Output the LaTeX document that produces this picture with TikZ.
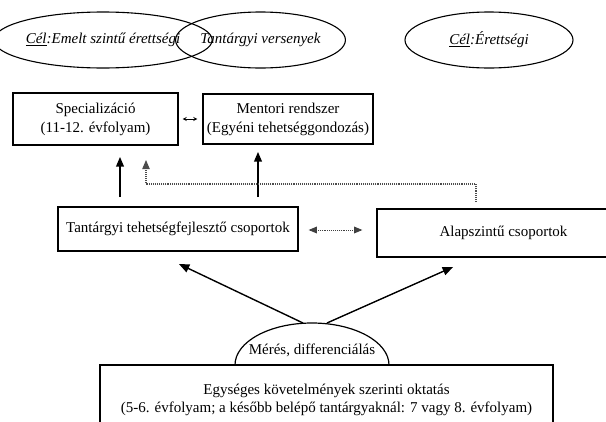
\documentclass[tikz,border=0pt]{standalone}
\usepackage{fontspec}
\setmainfont{Liberation Serif}
\usepackage{tikz}
\usetikzlibrary{arrows,shapes.geometric}

\begin{document}
\begin{tikzpicture}[x=1pt,y=-1pt,
    goal/.style={draw,ellipse,line width=1.1pt,inner sep=0pt,
                 minimum height=56pt,font=\fontsize{15}{17}\selectfont\itshape},
    level/.style={draw,rectangle,line width=1.4pt,align=center,inner sep=0pt,
                  font=\fontsize{15}{19}\selectfont}]
\useasboundingbox (0,0) rectangle (606,421);
\begin{scope}[>=triangle 45]

    % celok
    \node[goal,minimum width=187pt] (emelt) at (103,40)
        {\underline{Cél}:Emelt szintű érettségi};
    \node[goal,minimum width=165pt] (verseny) at (260.5,40)
        {Tantárgyi versenyek};
    \node[goal,minimum width=168pt] (erettsegi) at (489,40)
        {\underline{Cél}:Érettségi};

    % felso dobozok
    \node[level,minimum width=165pt,minimum height=52pt] (spec) at (95.5,119)
        {Specializáció\\(11-12. évfolyam)};
    \node[level,minimum width=170pt,minimum height=50pt] (mentor) at (288,119)
        {Mentori rendszer\\(Egyéni tehetséggondozás)};
    \draw[<->,>=stealth,line width=0.8pt] ([xshift=4pt]spec.east) -- ([xshift=-5pt]mentor.west);

    % csoportok
    \node[level,minimum width=240pt,minimum height=44pt] (tehet) at (178,229)
        {Tantárgyi tehetségfejlesztő csoportok};
    \node[level,minimum width=253pt,minimum height=48pt] (alap) at (503.5,233)
        {Alapszintű csoportok};
    \draw[<->,line width=0.9pt,densely dotted,black!75]
        ([xshift=10pt]tehet.east |- 0,230) -- ([xshift=-14pt]alap.west |- 0,230);

    \coordinate (t1) at (120,197);
    \coordinate (s1) at (120,157);
    \coordinate (t2) at (258,197);
    \coordinate (m2) at (258,152);
    \draw[->,line width=1.2pt] (t1) -- (s1);
    \draw[->,line width=1.2pt] (t2) -- (m2);

    \coordinate (a1) at (476,202);
    \coordinate (s2) at (146,160);
    \draw[->,line width=1.1pt,densely dotted,black!70]
        (a1) -- (a1 |- 0,184) -| (s2);

    % meres
    \node[level,minimum width=453pt,minimum height=70pt,
          font=\fontsize{15}{18}\selectfont] (egyseg) at (326.5,400)
        {Egységes követelmények szerinti oktatás\\
         (5-6. évfolyam; a később belépő tantárgyaknál: 7 vagy 8. évfolyam)};
    \draw[black,line width=1.2pt] (235,365) arc[start angle=180,end angle=360,
        x radius=77,y radius=42];
    \node[font=\fontsize{15}{17}\selectfont] (meres) at (312,350)
        {Mérés, differenciálás};

    \coordinate (m1) at (303,323);
    \coordinate (m3) at (327,323);
    \coordinate (p1) at (179,264);
    \coordinate (p2) at (453,267);
    \draw[->,line width=1.4pt] (m1) -- (p1);
    \draw[->,line width=1.4pt] (m3) -- (p2);
\end{scope}
\end{tikzpicture}
\end{document}
